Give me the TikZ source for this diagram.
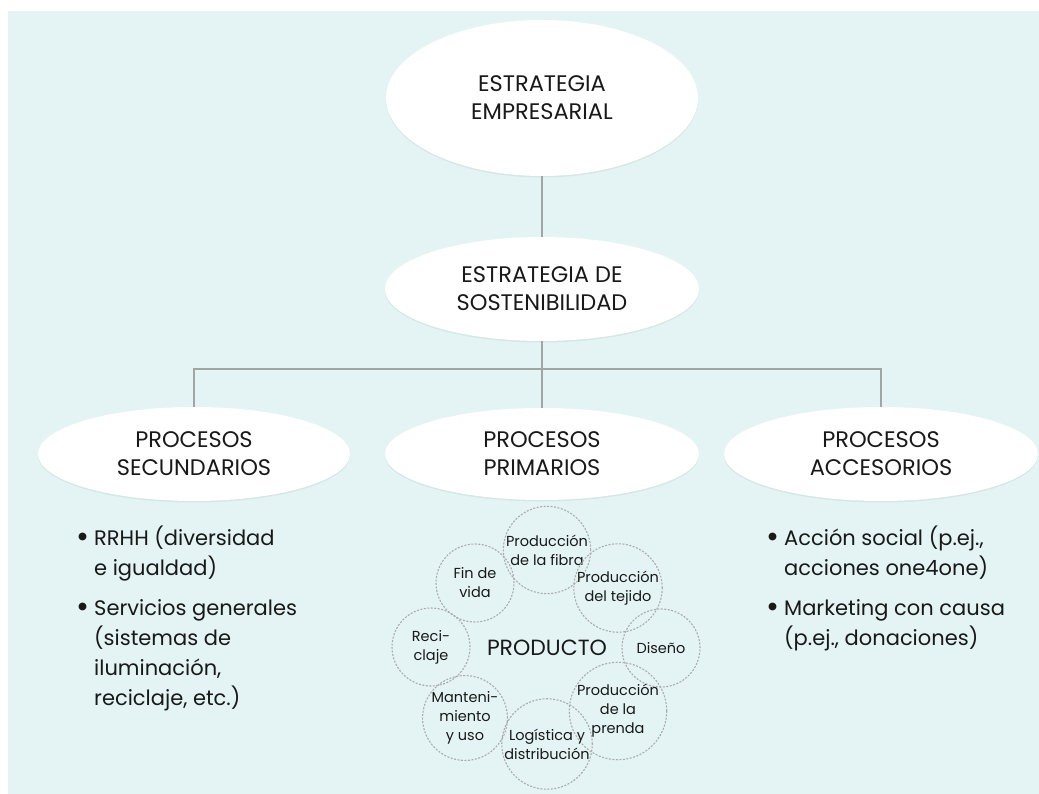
\documentclass[tikz,border=0pt]{standalone}
\usepackage{fontspec}
\setmainfont{Poppins}
\usepackage{tikz}
\usetikzlibrary{shapes.geometric,shadows}
\definecolor{bgcyan}{RGB}{228,244,244}
\definecolor{linegray}{RGB}{160,166,166}
\definecolor{inkgray}{RGB}{25,25,25}
\definecolor{ringgray}{RGB}{170,172,172}
\newcommand{\bul}{\makebox[18pt][l]{\raisebox{-2pt}{\scalebox{1.5}{\textbullet}}}}
\newcommand{\ind}{\hspace*{18pt}}

\begin{document}
\begin{tikzpicture}[
    x=1pt, y=-1pt,
    every node/.style={text=inkgray},
    oval/.style={ellipse, fill=white, inner sep=0pt, align=center,
        font=\fontsize{22.5}{28}\selectfont,
        drop shadow={shadow xshift=0pt, shadow yshift=-1.5pt, opacity=0.12, fill=gray}},
    conn/.style={draw=linegray, line width=1.1pt},
    stage/.style={circle, draw=ringgray, dash pattern=on 2pt off 1.5pt, line width=1.1pt,
        minimum size=78pt, inner sep=0pt, align=center, font=\fontsize{14.5}{19}\selectfont},
    blist/.style={anchor=north west, inner sep=0pt, align=left, font=\fontsize{21}{30}\selectfont}
]
\useasboundingbox (0,0) rectangle (1039,794);
\fill[bgcyan] (8,11) rectangle (1039,794);

% ovals
\node[oval, minimum width=312pt, minimum height=156pt] (emp) at (542,98) {ESTRATEGIA\\EMPRESARIAL};
\node[oval, minimum width=314pt, minimum height=104pt] (sost) at (542,289) {ESTRATEGIA DE\\SOSTENIBILIDAD};
\node[oval, minimum width=312pt, minimum height=94pt] (sec) at (194,454) {PROCESOS\\SECUNDARIOS};
\node[oval, minimum width=314pt, minimum height=92pt] (pri) at (542,454) {PROCESOS\\PRIMARIOS};
\node[oval, minimum width=314pt, minimum height=94pt] (acc) at (881,454) {PROCESOS\\ACCESORIOS};

% connectors
\coordinate (bar) at (542,369);
\draw[conn] (emp.south) -- (sost.north);
\draw[conn] (sost.south) -- (pri.north);
\draw[conn] (sec.north) -- (sec.north |- bar) -- (acc.north |- bar) -- (acc.north);

% lists
\node[blist] (seclist) at (76,526) {\bul RRHH (diversidad\\ \ind e igualdad)\\[10pt]
    \bul Servicios generales\\ \ind (sistemas de\\ \ind iluminación,\\ \ind reciclaje, etc.)};
\node[blist] (acclist) at (766,526) {\bul Acción social (p.ej.,\\ \ind acciones one4one)\\[10pt]
    \bul Marketing con causa\\ \ind (p.ej., donaciones)};

% product cycle
\node[font=\fontsize{22}{24}\selectfont] (prod) at (547,648) {PRODUCTO};
\foreach \nm/\px/\py/\txt in {
    fibra/547/550/{Producción\\de la fibra},
    tejido/618/588/{Producción\\del tejido},
    diseno/661/648/{Diseño},
    prenda/618/711/{Producción\\de la\\prenda},
    logist/547/744/{Logística y\\distribución},
    mant/465/718/{Manteni-\\miento\\y uso},
    recic/431/647/{Reci-\\claje},
    fin/475/583/{Fin de\\vida}}
    \node[stage] (\nm) at (\px,\py) {\txt};
\end{tikzpicture}
\end{document}
